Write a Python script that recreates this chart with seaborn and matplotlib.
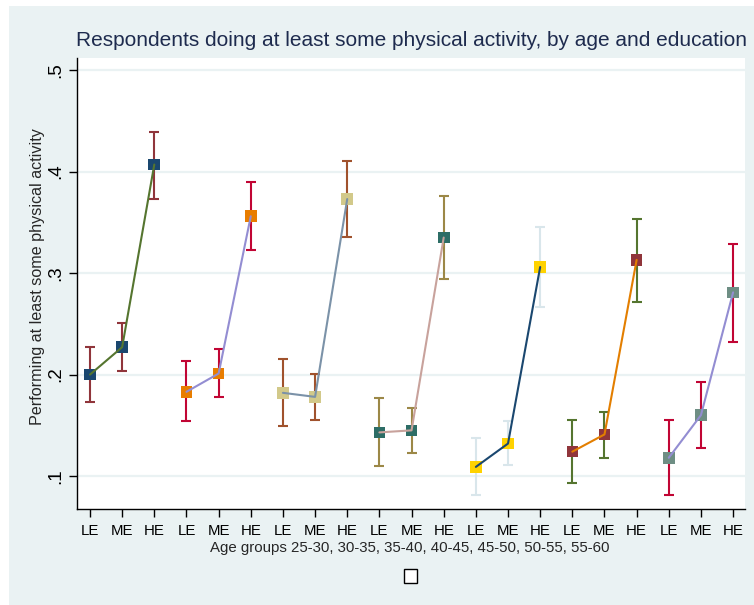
import matplotlib
matplotlib.use("Agg")
import matplotlib.pyplot as plt
from matplotlib.patches import Rectangle
import numpy as np
import pandas as pd
import seaborn as sns

# Share of respondents doing at least some physical activity,
# by age group and education level (with 95% confidence intervals)
age_groups = ["25-30", "30-35", "35-40", "40-45", "45-50", "50-55", "55-60"]
education = ["LE", "ME", "HE"]

mean_le = [0.200, 0.183, 0.182, 0.143, 0.109, 0.124, 0.118]
mean_me = [0.227, 0.201, 0.178, 0.145, 0.132, 0.141, 0.160]
mean_he = [0.407, 0.356, 0.373, 0.335, 0.306, 0.313, 0.281]

low_le = [0.173, 0.154, 0.149, 0.110, 0.081, 0.093, 0.081]
low_me = [0.204, 0.178, 0.155, 0.123, 0.111, 0.118, 0.128]
low_he = [0.373, 0.323, 0.336, 0.294, 0.267, 0.272, 0.232]

high_le = [0.227, 0.213, 0.215, 0.177, 0.137, 0.155, 0.155]
high_me = [0.251, 0.225, 0.201, 0.167, 0.154, 0.163, 0.193]
high_he = [0.439, 0.390, 0.410, 0.376, 0.345, 0.353, 0.329]

y_ticks = [0.1, 0.2, 0.3, 0.4, 0.5]
y_tick_labels = [".1", ".2", ".3", ".4", ".5"]

title = "Respondents doing at least some physical activity, by age and education"
x_title = "Age groups 25-30, 30-35, 35-40, 40-45, 45-50, 50-55, 55-60"
y_title = "Performing at least some physical activity"

# Stata s2color-style colours per age group
marker_colors = ["#1a476f", "#e87d00", "#d2c98a", "#2d6d66", "#ffd200", "#90353b", "#6e8e84"]
line_colors = ["#55752f", "#938dd2", "#7b92a8", "#c8a29c", "#1a476f", "#e37e00", "#938dd2"]
ci_colors = ["#90353b", "#c10534", "#a0522d", "#9c8847", "#d9e6eb", "#55752f", "#c10534"]

# long-form table
rows = []
for g, age in enumerate(age_groups):
    means = [mean_le[g], mean_me[g], mean_he[g]]
    lows = [low_le[g], low_me[g], low_he[g]]
    highs = [high_le[g], high_me[g], high_he[g]]
    for e, edu in enumerate(education):
        rows.append({"pos": g * 3 + e + 1, "age": age, "edu": edu,
                     "mean": means[e], "low": lows[e], "high": highs[e]})
df = pd.DataFrame(rows)

bg = "#eaf2f3"
sns.set_theme(style="white")
plt.rcParams["font.family"] = ["Liberation Sans", "DejaVu Sans"]

fig = plt.figure(figsize=(7.54, 6.05), dpi=100)
fig.patch.set_facecolor("white")
# outer graph region (light blue-grey), inset slightly from the top/left
fig.patches.append(Rectangle((9 / 754, 0), 1 - 9 / 754, 1 - 6 / 605,
                             transform=fig.transFigure, facecolor=bg,
                             edgecolor="none", zorder=-10))

ax = fig.add_axes([77 / 754, 1 - 509 / 605, (745 - 77) / 754, (509 - 58) / 605])
ax.set_facecolor("white")

for yv in y_ticks:
    ax.axhline(yv, color=bg, lw=1.6, zorder=0)

# confidence intervals
for g, age in enumerate(age_groups):
    sub = df[df["age"] == age]
    ax.errorbar(sub["pos"], sub["mean"],
                yerr=[sub["mean"] - sub["low"], sub["high"] - sub["mean"]],
                fmt="none", ecolor=ci_colors[g], elinewidth=1.5,
                capsize=3.4, capthick=1.5, zorder=2)

# point estimates
sns.scatterplot(data=df, x="pos", y="mean", hue="age", palette=marker_colors,
                marker="s", s=70, edgecolor="none", legend=False, ax=ax, zorder=3)

# connecting lines within each age group
sns.lineplot(data=df, x="pos", y="mean", hue="age", palette=line_colors,
             units="age", estimator=None, sort=False, lw=1.5,
             legend=False, ax=ax, zorder=4)

ax.set_xlim(0.596, 21.37)
ax.set_ylim(0.0675, 0.512)
ax.set_xticks(df["pos"])
ax.set_xticklabels(df["edu"], fontsize=10.8)
ax.set_yticks(y_ticks)
ax.set_yticklabels(y_tick_labels, fontsize=13.5, rotation=90, va="center")
ax.tick_params(axis="both", direction="out", length=5.5, width=1, color="black",
               left=True, bottom=True, labelcolor="black")
ax.tick_params(axis="y", pad=4)
ax.tick_params(axis="x", pad=5)

for s in ["top", "right"]:
    ax.spines[s].set_visible(False)
for s in ["left", "bottom"]:
    ax.spines[s].set_color("black")
    ax.spines[s].set_linewidth(1)

ax.set_xlabel(x_title, fontsize=10.8)
ax.xaxis.set_label_coords((410 - 77) / 668, (509 - 548) / 451)
ax.xaxis.label.set_va("center")
ax.set_ylabel(y_title, fontsize=11.6)
ax.yaxis.set_label_coords((38 - 77) / 668, (509 - 277) / 451)
ax.yaxis.label.set_va("center")

fig.text(411 / 754, 1 - 41 / 605, title, ha="center", va="center",
         fontsize=15, color="#1e2b4e")

# empty legend key box
fig.patches.append(Rectangle((404 / 754, 1 - 582.5 / 605), 13 / 754, 14 / 605,
                             transform=fig.transFigure, facecolor="white",
                             edgecolor="black", lw=1))

fig.savefig("out.png", dpi=100, facecolor=fig.get_facecolor())
